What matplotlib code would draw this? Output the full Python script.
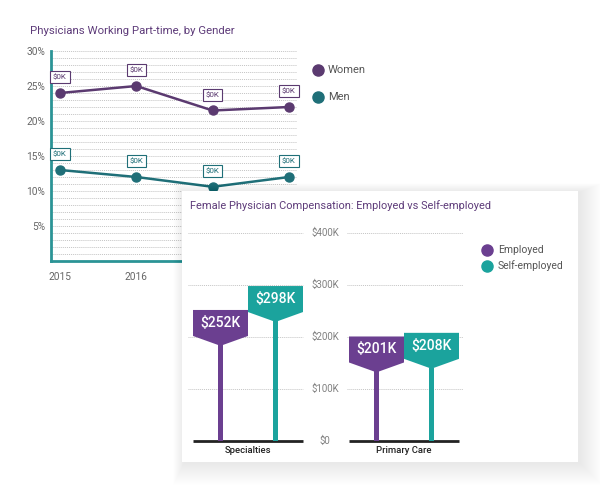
import numpy as np
import matplotlib.pyplot as plt
from matplotlib.patches import Rectangle, Polygon
from matplotlib.lines import Line2D

plt.rcParams['font.family'] = ['Roboto', 'DejaVu Sans']

# back chart data
years = [2015, 2016, 2017, 2018]
women = [24.0, 25.0, 21.5, 22.0]
men = [13.0, 12.0, 10.6, 12.0]
point_labels = ['$0K', '$0K', '$0K', '$0K']

# front chart data
categories = ['Specialties', 'Primary Care']
employed = [252, 201]
self_employed = [298, 208]

W, H = 600, 490
fig = plt.figure(figsize=(6, 4.9), dpi=100)

def fx(x):
    return x / W

def fy(y):
    return 1 - y / H

def rect(x0, y0, x1, y1):
    return [fx(x0), fy(y1), fx(x1) - fx(x0), fy(y0) - fy(y1)]

c_women = '#5b3a70'
c_men = '#1f6f78'
c_spine = '#2b9496'
c_title = '#5e3c7a'
c_emp = '#6b3f90'
c_self = '#1ba39d'

# ---------- back chart ----------
fig.text(fx(30), fy(31), 'Physicians Working Part-time, by Gender',
         fontsize=8.2, color=c_title, va='center', ha='left')

ax1 = fig.add_axes(rect(51, 51, 297, 261), zorder=0)
ax1.set_xlim(2014.882, 2018.105)
ax1.set_ylim(0, 30)
ax1.set_yticks([5, 10, 15, 20, 25, 30])
ax1.set_yticklabels(['5%', '10%', '15%', '20%', '25%', '30%'])
ax1.set_yticks(np.arange(1, 30, 1), minor=True)
ax1.set_xticks(years)
ax1.set_xticklabels([str(y) for y in years])
ax1.tick_params(length=0, labelsize=7.3, labelcolor='#666666', pad=4)
ax1.tick_params(axis='x', pad=8)
ax1.tick_params(which='minor', length=0)
ax1.grid(True, which='both', axis='y', color='#c4c4c4', linestyle=(0, (1, 1)), linewidth=0.7)
for s in ['top', 'right']:
    ax1.spines[s].set_visible(False)
for s in ['left', 'bottom']:
    ax1.spines[s].set_color(c_spine)
    ax1.spines[s].set_linewidth(2)

for vals, col in [(women, c_women), (men, c_men)]:
    ax1.plot(years, vals, color=col, linewidth=1.8, marker='o', markersize=6.5, clip_on=False, zorder=3)
    for x, v, t in zip(years, vals, point_labels):
        ax1.annotate(t, (x, v), xytext=(0, 9), textcoords='offset points', ha='center', va='bottom',
                     fontsize=5.8, color=col,
                     bbox=dict(boxstyle='square,pad=0.35', fc='white', ec=col, lw=0.8), zorder=4)

for yy, lab, col in [(70, 'Women', c_women), (97, 'Men', c_men)]:
    fig.add_artist(Line2D([fx(318)], [fy(yy)], marker='o', markersize=8, color=col, transform=fig.transFigure))
    fig.text(fx(328), fy(yy), lab, fontsize=8, color='#555555', va='center', ha='left')

# ---------- card with shadow ----------
cx0, cy0, cx1, cy1 = 182, 191, 578, 462
for i in range(22, 0, -1):
    fig.add_artist(Rectangle((fx(cx0 - i * 0.5 + 2), fy(cy1 + i + 1)),
                             fx(cx1 - cx0 + i * 1.5), fy(0) - fy(cy1 - cy0 + i * 1.4),
                             transform=fig.transFigure, fc='black', ec='none', alpha=0.0055, zorder=1))
fig.add_artist(Rectangle((fx(cx0), fy(cy1)), fx(cx1 - cx0), fy(0) - fy(cy1 - cy0),
                         transform=fig.transFigure, fc='white', ec='none', zorder=1.1))

fig.text(fx(190), fy(206), 'Female Physician Compensation: Employed vs Self-employed',
         fontsize=7.9, color=c_title, va='center', ha='left', zorder=3)

# ---------- front chart ----------
ax2 = fig.add_axes(rect(188, 233, 463, 441), zorder=2)
ax2.patch.set_visible(False)
scale = 156.0
ax2.set_xlim(-60 / scale, 1 + 59 / scale)
ax2.set_ylim(0, 400)
ax2.axis('off')

fw = 55 / scale
for lvl in [100, 200, 300, 400]:
    ax2.plot([-60 / scale, 0.353], [lvl, lvl], color='#c4c4c4', linestyle=(0, (1, 1)), linewidth=0.7)
    ax2.plot([0.635, 1 + 59 / scale], [lvl, lvl], color='#c4c4c4', linestyle=(0, (1, 1)), linewidth=0.7)
for lvl, lab in zip([0, 100, 200, 300, 400], ['$0', '$100K', '$200K', '$300K', '$400K']):
    ax2.text(0.494, lvl, lab, ha='center', va='center', fontsize=7, color='#808080')

rect_h = 50
tip_h = 19
for i, cat in enumerate(categories):
    ax2.plot([i - fw, i + fw], [0, 0], color='#222222', linewidth=2, solid_capstyle='butt', clip_on=False)
    ax2.text(i, -19, cat, ha='center', va='center', fontsize=6.8, color='#222222', fontweight='medium')
    for val, x0, col in [(employed[i], i - fw, c_emp), (self_employed[i], i, c_self)]:
        xc = x0 + fw / 2
        ax2.bar(xc, val - rect_h - tip_h + 2, width=5 / scale, color=col, zorder=2)
        pts = [(x0, val), (x0 + fw, val), (x0 + fw, val - rect_h), (xc, val - rect_h - tip_h), (x0, val - rect_h)]
        ax2.add_patch(Polygon(pts, closed=True, fc=col, ec='none', zorder=3))
        ax2.text(xc, val - rect_h / 2, '$%dK' % val, ha='center', va='center', color='white',
                 fontsize=10, fontweight='medium', zorder=4)

for yy, lab, col in [(250, 'Employed', c_emp), (266, 'Self-employed', c_self)]:
    fig.add_artist(Line2D([fx(487)], [fy(yy)], marker='o', markersize=8, color=col,
                          transform=fig.transFigure, zorder=3))
    fig.text(fx(498), fy(yy), lab, fontsize=7.5, color='#555555', va='center', ha='left', zorder=3)

fig.savefig('out.png', dpi=100)
